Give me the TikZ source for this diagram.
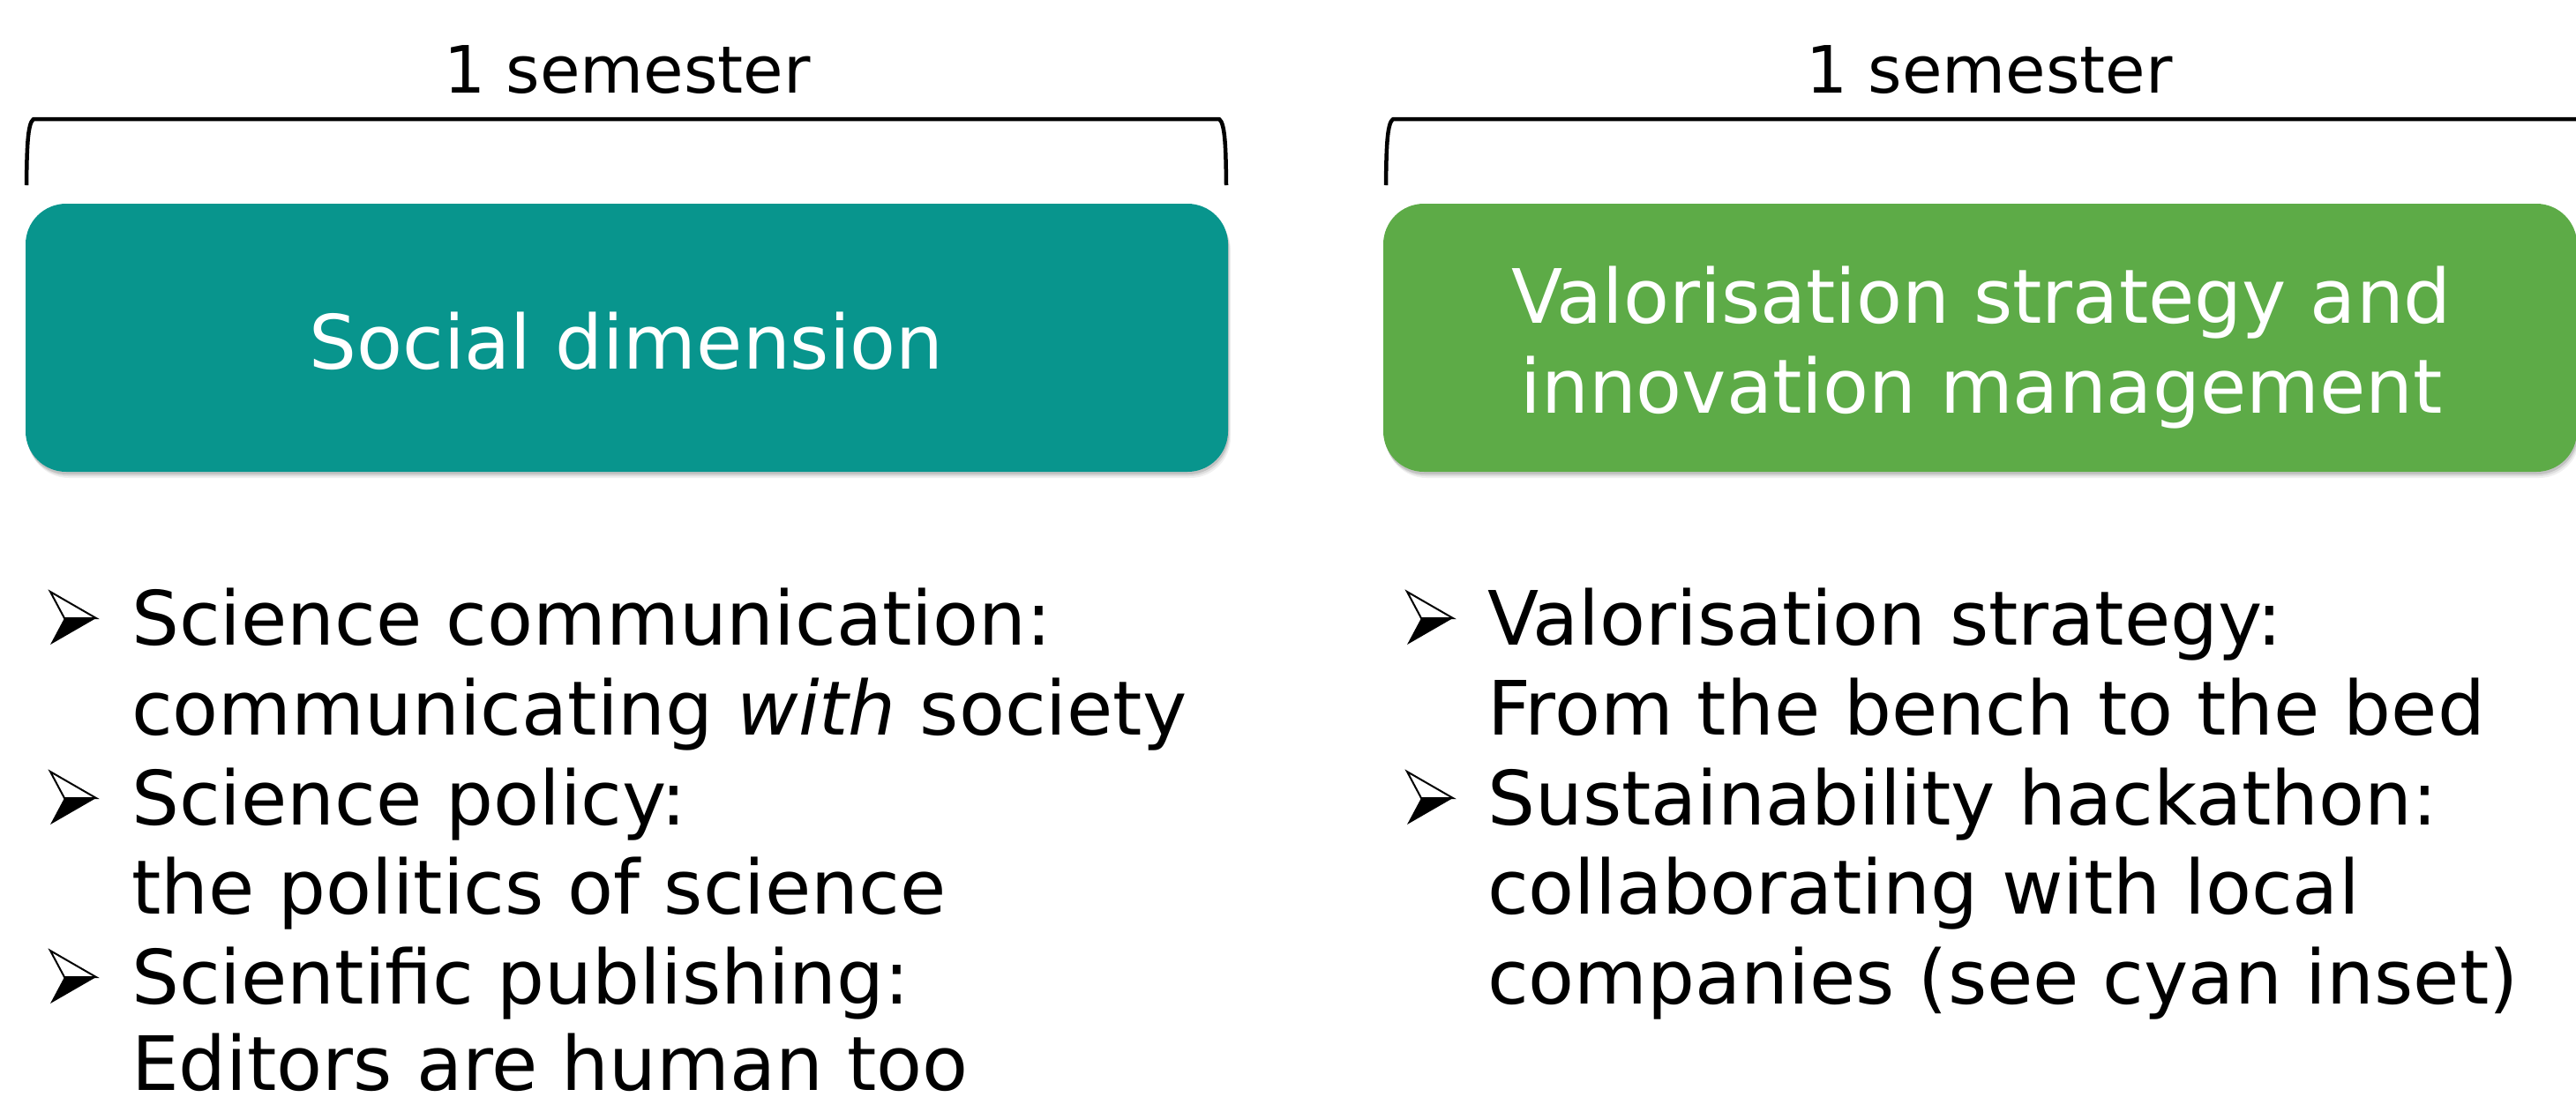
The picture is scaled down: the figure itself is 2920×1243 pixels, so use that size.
\documentclass[tikz,border=0pt]{standalone}
\usepackage{fontspec}
\setmainfont{DejaVu Sans}
\usetikzlibrary{shadows}
\definecolor{tealbox}{RGB}{8,149,141}
\definecolor{greenbox}{RGB}{93,171,71}
\begin{document}
\begin{tikzpicture}[x=1pt,y=-1pt,
  semlbl/.style={inner sep=0pt, font=\fontsize{74}{89}\selectfont, anchor=base},
  boxtxt/.style={inner sep=0pt, font=\fontsize{85}{102}\selectfont, text=white, anchor=base},
  itemtxt/.style={inner sep=0pt, font=\fontsize{85}{102}\selectfont, anchor=base west},
  brk/.style={line width=4.5pt, line cap=butt, line join=round},
  panel/.style={draw=none, rounded corners=46pt, inner sep=0pt, minimum height=304pt,
    general shadow={shadow xshift=3pt, shadow yshift=-7pt, fill=black, opacity=0.06},
    general shadow={shadow xshift=2pt, shadow yshift=-5pt, fill=black, opacity=0.08},
    general shadow={shadow xshift=1pt, shadow yshift=-3pt, fill=black, opacity=0.12}},
  bularrow/.pic={
    \draw[line width=2pt, fill=white, line join=miter] (0,-60) -- (52,-30) -- (16,-30) -- cycle;
    \fill (16,-30) -- (52,-30) -- (0,0) -- cycle;}
]
\useasboundingbox (0,0) rectangle (2920,1243);

% brackets
\coordinate (b1l) at (30,210);
\coordinate (b1r) at (1390,210);
\coordinate (b2l) at (1571,210);
\coordinate (b2r) at (2920,135);
\draw[brk] (b1l) .. controls (30.5,170) and (31,140) .. (38,135) -- (1382,135) .. controls (1389,140) and (1389.5,170) .. (b1r);
\draw[brk] (b2l) .. controls (1571.5,170) and (1572,140) .. (1579,135) -- (b2r);

% labels above
\node[semlbl] (sem1) at (711,105) {1 semester};
\node[semlbl] (sem2) at (2255,105) {1 semester};

% boxes
\node[panel, fill=tealbox, minimum width=1363pt] (social) at (710.5,383) {};
\node[panel, fill=greenbox, minimum width=1353pt] (valor) at (2244.5,383) {};
\node[boxtxt] (soctxt) at (710,418) {Social dimension};
\node[boxtxt] (valtxt1) at (2246,366) {Valorisation strategy and};
\node[boxtxt] (valtxt2) at (2246,468) {innovation management};

% left list
\pic (ar1) at (57,731) {bularrow};
\pic (ar2) at (57,935) {bularrow};
\pic (ar3) at (57,1138) {bularrow};
\node[itemtxt] (l1) at (149,731) {Science communication:};
\node[itemtxt] (l2) at (149,833) {communicating \textit{with} society};
\node[itemtxt] (l3) at (149,935) {Science policy:};
\node[itemtxt] (l4) at (149,1036) {the politics of science};
\node[itemtxt] (l5) at (149,1138) {Scientific publishing:};
\node[itemtxt] (l6) at (149,1236) {Editors are human too};

% right list
\pic (ar4) at (1595,731) {bularrow};
\pic (ar5) at (1595,935) {bularrow};
\node[itemtxt] (r1) at (1686,731) {Valorisation strategy:};
\node[itemtxt] (r2) at (1686,833) {From the bench to the bed};
\node[itemtxt] (r3) at (1686,935) {Sustainability hackathon:};
\node[itemtxt] (r4) at (1686,1036) {collaborating with local};
\node[itemtxt] (r5) at (1686,1138) {companies (see cyan inset)};
\end{tikzpicture}
\end{document}
